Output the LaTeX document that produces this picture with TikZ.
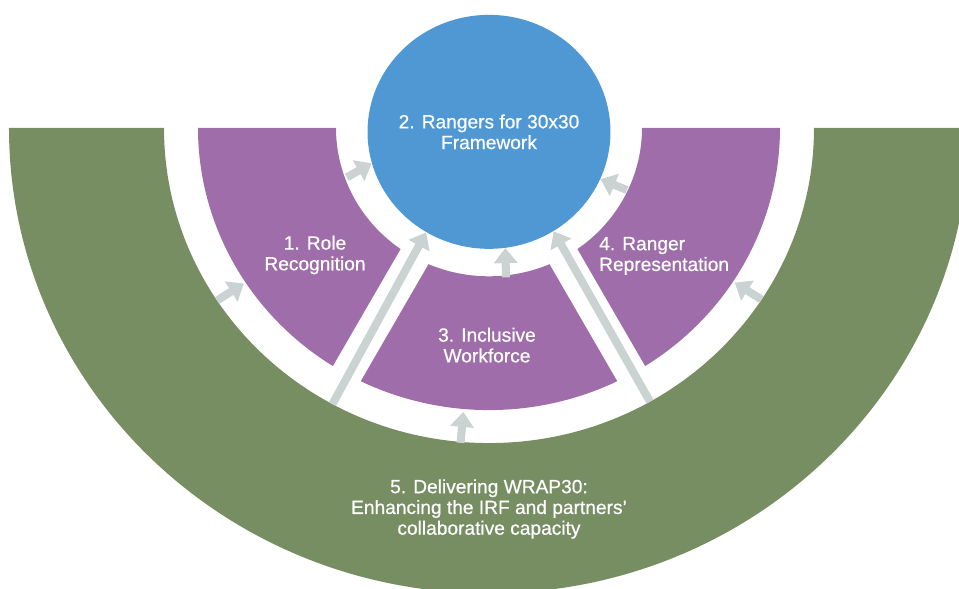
\documentclass[tikz,border=0pt]{standalone}
\usepackage{fontspec}
\setmainfont{Liberation Sans}
\newfontfamily\wrapfont{Liberation Sans}[FakeBold=0.6]
\usetikzlibrary{arrows.meta,shapes.geometric,positioning}
\definecolor{wrapgreen}{HTML}{778D62}
\definecolor{wrappurple}{HTML}{A06DAB}
\definecolor{wrapblue}{HTML}{5098D3}
\definecolor{wrapgrey}{HTML}{CAD3D1}

\begin{document}
\begin{tikzpicture}[
    x=0.02cm, y=0.0194cm,
    txt/.style={text=white,align=center,font=\wrapfont\fontsize{10.9}{11.8}\selectfont},
    band/.style={fill=wrapgreen},
    sector/.style={fill=wrappurple},
    flow/.style={draw=wrapgrey,line width=0.16cm,-{Triangle[width=0.46cm,length=0.3cm]}}
]
    \useasboundingbox (-489,132) rectangle (470,-475.3);

    % outer half ring
    \fill[band] (180:480) arc[start angle=180,end angle=360,radius=480] -- (360:325) arc[start angle=360,end angle=180,radius=325] -- cycle;

    % the three sectors
    \fill[sector] (180:153) -- (180:291) arc[start angle=180,end angle=237.55,radius=291] -- (234.7:153) arc[start angle=234.7,end angle=180,radius=153] -- cycle;
    \fill[sector] (246.7:153) -- (243.85:291) arc[start angle=243.85,end angle=296.15,radius=291] -- (293.3:153) arc[start angle=293.3,end angle=246.7,radius=153] -- cycle;
    \fill[sector] (305.3:153) -- (302.45:291) arc[start angle=302.45,end angle=360,radius=291] -- (360:153) arc[start angle=360,end angle=305.3,radius=153] -- cycle;

    \node[ellipse,fill=wrapblue,minimum width=4.86cm,minimum height=4.68cm,inner sep=0pt] (fw) at (0,-4) {};
    \node[txt] (fwtext) at (fw.center) {2. Rangers for 30x30\\Framework};

    \node[txt] (role) at (-174,-131) {1. Role\\Recognition};
    \node[txt] (incl) at (-2,-224) {3. Inclusive\\Workforce};
    \node[txt,anchor=west,align=left] (repr) at (104,-132) {4. Ranger\\Representation};
    \node[txt] (wrap) at (0,-393) {5. Delivering WRAP30:\\Enhancing the IRF and partners’\\collaborative capacity};

    % arrow ends
    \coordinate (g1) at (213.2:325);
    \coordinate (s1) at (213.2:293);
    \coordinate (g3) at (265:326);
    \coordinate (s3) at (265:294);
    \coordinate (g4) at (327:325);
    \coordinate (s4) at (327:293);
    \coordinate (i1) at (199.7:151);
    \coordinate (i3) at (276.3:155);
    \coordinate (i4) at (335.1:152);
    \coordinate (gl) at (241.2:325);
    \coordinate (gr) at (299.7:325);

    \draw[flow] (g1) -- (s1);
    \draw[flow] (g3) -- (s3);
    \draw[flow] (g4) -- (s4);
    \draw[flow] (i1) -- (fw.195);
    \draw[flow] (i3) -- (fw.278);
    \draw[flow] (i4) -- (fw.337);
    \draw[flow] (gl) -- (fw.238);
    \draw[flow] (gr) -- (fw.303);
\end{tikzpicture}
\end{document}
